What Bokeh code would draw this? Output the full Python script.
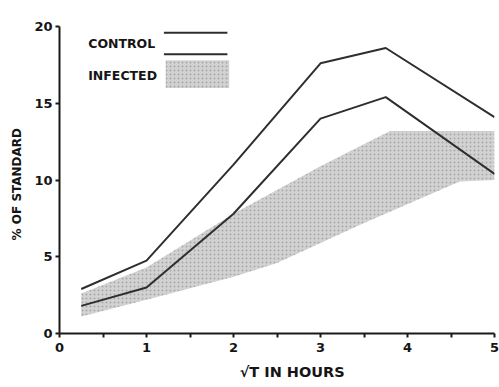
from bokeh.plotting import figure
from bokeh.embed import file_html
from bokeh.resources import INLINE
from bokeh.core.properties import value
from bokeh.models import FixedTicker, Range1d, Title

# Data
t_hours = [0.25, 1, 2, 3, 3.75, 5]
control = [2.9, 4.75, 11.0, 17.6, 18.6, 14.1]
infected = [1.8, 3.0, 7.8, 14.0, 15.4, 10.4]

band_upper_x = [0.25, 1, 2, 3, 3.8, 5]
band_upper_y = [2.6, 4.3, 7.8, 10.9, 13.2, 13.2]
band_lower_x = [5, 4.6, 3.5, 2.5, 2, 1, 0.25]
band_lower_y = [10.0, 9.9, 7.2, 4.6, 3.7, 2.2, 1.1]

x_ticks = [0, 1, 2, 3, 4, 5]
y_ticks = [0, 5, 10, 15, 20]
legend_labels = ["CONTROL", "INFECTED"]
x_title = "√T  IN  HOURS"
y_title = "%  OF  STANDARD"

INK = "#2e2e2e"
TXT = "#151515"
FONT = "DejaVu Sans"

p = figure(width=499, height=387, output_backend="svg", toolbar_location=None,
           x_range=Range1d(0, 5), y_range=Range1d(0, 20),
           min_border_left=59, min_border_right=5, min_border_top=26, min_border_bottom=54)
p.outline_line_color = None
p.grid.visible = False
p.background_fill_color = "white"
p.border_fill_color = "white"

# shaded band
p.patch(band_upper_x + band_lower_x, band_upper_y + band_lower_y,
        fill_color="#d2d2d2", line_color=None,
        hatch_pattern="dot", hatch_color="#a8a8a8", hatch_scale=4, hatch_weight=1)

p.line(t_hours, control, line_color=INK, line_width=2)
p.line(t_hours, infected, line_color=INK, line_width=2)

# legend drawn in data space
p.text([0.33, 0.33], [18.9, 16.8], text=legend_labels, text_font=value(FONT),
       text_font_style="bold", text_font_size="12.5px", text_color=TXT,
       text_baseline="middle", text_align="left")
p.segment([1.2, 1.2], [19.6, 18.2], [1.93, 1.93], [19.6, 18.2], line_color=INK, line_width=2)
p.quad(left=[1.22], right=[1.95], bottom=[16.0], top=[17.8], fill_color="#d2d2d2",
       line_color=None, hatch_pattern="dot", hatch_color="#a8a8a8", hatch_scale=4)

for ax in (p.xaxis[0], p.yaxis[0]):
    ax.axis_line_color = "#1a1a1a"
    ax.axis_line_width = 2
    ax.major_tick_line_color = "#1a1a1a"
    ax.major_tick_line_width = 2
    ax.major_tick_in = 0
    ax.major_tick_out = 4
    ax.major_label_text_font = FONT
    ax.major_label_text_font_style = "bold"
    ax.major_label_text_font_size = "13px"
    ax.major_label_text_color = TXT
    ax.axis_label_text_font = FONT
    ax.axis_label_text_font_style = "bold"
    ax.axis_label_text_color = TXT

p.xaxis.ticker = FixedTicker(ticks=x_ticks, minor_ticks=[0.5, 1.5, 2.5, 3.5, 4.5])
p.xaxis.minor_tick_line_color = "#1a1a1a"
p.xaxis.minor_tick_line_width = 2
p.xaxis.minor_tick_in = 0
p.xaxis.minor_tick_out = 4
p.xaxis.major_label_standoff = 5

p.yaxis.ticker = FixedTicker(ticks=y_ticks)
p.yaxis.minor_tick_line_color = None
p.yaxis.major_label_standoff = 3
p.yaxis.axis_label = y_title
p.yaxis.axis_label_text_font_size = "12px"
p.yaxis.axis_label_standoff = 7

# x-axis title, placed slightly right of centre as in the original
pad = "\u00a0" * 8
p.add_layout(Title(text=pad + x_title, align="center", text_font=FONT,
                   text_font_style="bold", text_font_size="14.5px", text_color=TXT,
                   standoff=15), "below")

open("out.html", "w").write(file_html(p, INLINE))
